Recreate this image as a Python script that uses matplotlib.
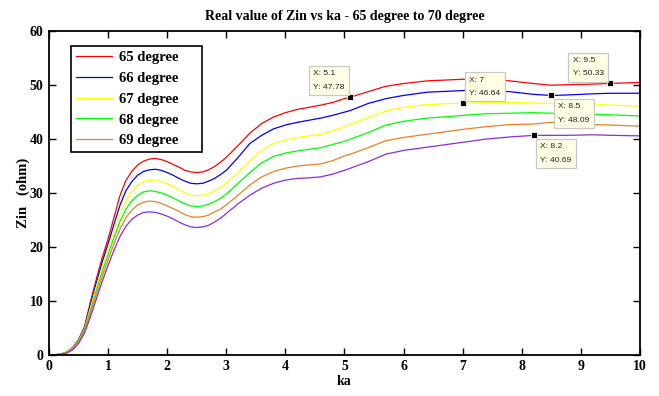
import matplotlib as mpl
import matplotlib.pyplot as plt
# -------------------------------------------------------------------------------------------------

mpl.use('AGG')

# Data
ka = [0.1, 0.2, 0.3, 0.4, 0.5, 0.6, 0.7, 0.8, 0.9, 1.0,
	1.1, 1.2, 1.3, 1.4, 1.5, 1.6, 1.7, 1.8, 1.9, 2.0,
	2.1, 2.2, 2.3, 2.4, 2.5, 2.6, 2.7, 2.8, 2.9, 3.0,
	3.2, 3.4, 3.6, 3.8, 4.0, 4.2, 4.4, 4.6, 4.8, 5.0,
	5.1, 5.4, 5.7, 6.0, 6.4, 6.8, 7.0, 7.4, 7.8, 8.2,
	8.5, 8.8, 9.2, 9.5, 10.0]

zin_65 = [0.0, 0.1, 0.5, 1.3, 2.8, 5.2, 9.8, 14.0, 18.0, 21.5,
	25.5, 29.5, 32.3, 34.0, 35.2, 35.9, 36.3, 36.4, 36.2, 35.8,
	35.3, 34.8, 34.2, 33.9, 33.8, 33.9, 34.3, 34.9, 35.7, 36.6,
	38.8, 41.1, 42.9, 44.1, 44.9, 45.5, 45.9, 46.3, 46.8, 47.5,
	47.78, 48.8, 49.8, 50.3, 50.8, 51.0, 51.1, 51.1, 50.8, 50.3,
	50.0, 50.1, 50.2, 50.33, 50.5]

zin_66 = [0.0, 0.1, 0.5, 1.3, 2.7, 5.0, 9.2, 13.3, 17.2, 20.6,
	24.2, 27.7, 30.4, 32.1, 33.3, 34.0, 34.3, 34.4, 34.2, 33.8,
	33.3, 32.7, 32.2, 31.8, 31.7, 31.8, 32.2, 32.7, 33.4, 34.2,
	36.6, 39.2, 40.7, 41.9, 42.6, 43.1, 43.5, 43.9, 44.4, 45.0,
	45.3, 46.6, 47.5, 48.1, 48.7, 48.9, 49.0, 49.0, 48.8, 48.3,
	48.09, 48.2, 48.4, 48.5, 48.5]

zin_67 = [0.0, 0.1, 0.5, 1.2, 2.6, 4.8, 8.7, 12.6, 16.3, 19.6,
	23.0, 26.1, 28.6, 30.3, 31.4, 32.1, 32.4, 32.4, 32.1, 31.7,
	31.2, 30.6, 30.0, 29.6, 29.5, 29.6, 29.9, 30.4, 31.0, 31.8,
	33.8, 36.0, 37.9, 39.2, 39.8, 40.3, 40.6, 40.9, 41.5, 42.3,
	42.7, 44.0, 45.2, 45.9, 46.4, 46.6, 46.64, 46.8, 46.8, 46.7,
	46.6, 46.5, 46.4, 46.3, 46.1]

zin_68 = [0.0, 0.1, 0.4, 1.1, 2.5, 4.6, 8.2, 11.9, 15.4, 18.6,
	21.8, 24.7, 27.0, 28.5, 29.6, 30.2, 30.4, 30.3, 30.0, 29.6,
	29.1, 28.5, 28.0, 27.6, 27.5, 27.6, 27.9, 28.4, 29.0, 29.8,
	31.8, 33.8, 35.6, 36.8, 37.4, 37.8, 38.1, 38.4, 39.0, 39.6,
	40.0, 41.2, 42.6, 43.3, 43.9, 44.2, 44.4, 44.7, 44.8, 44.9,
	44.8, 44.7, 44.6, 44.5, 44.3]

zin_69 = [0.0, 0.1, 0.4, 1.0, 2.3, 4.3, 7.6, 11.1, 14.5, 17.6,
	20.6, 23.3, 25.4, 26.8, 27.8, 28.3, 28.5, 28.4, 28.1, 27.6,
	27.1, 26.6, 26.0, 25.6, 25.5, 25.6, 25.9, 26.5, 27.0, 27.8,
	29.6, 31.5, 33.0, 34.0, 34.6, 35.0, 35.2, 35.4, 36.0, 36.9,
	37.2, 38.4, 39.7, 40.3, 40.9, 41.5, 41.8, 42.3, 42.7, 42.8,
	43.1, 43.0, 42.7, 42.6, 42.4]

zin_70 = [0.0, 0.05, 0.3, 0.9, 2.1, 4.0, 7.0, 10.3, 13.6, 16.6,
	19.4, 21.9, 23.8, 25.1, 25.9, 26.4, 26.5, 26.4, 26.1, 25.7,
	25.2, 24.6, 24.1, 23.7, 23.6, 23.7, 24.0, 24.6, 25.3, 26.2,
	28.0, 29.6, 30.9, 31.8, 32.4, 32.7, 32.8, 33.0, 33.5, 34.2,
	34.6, 35.8, 37.2, 37.9, 38.5, 39.1, 39.4, 40.0, 40.4, 40.69,
	40.7, 40.7, 40.8, 40.7, 40.6]

legend_labels = ['65 degree', '66 degree', '67 degree', '68 degree', '69 degree']

# Data tips (x, y) shown on the chart
tip_x = [5.1, 7.0, 8.5, 9.5, 8.2]
tip_y = [47.78, 46.64, 48.09, 50.33, 40.69]
tip_text = ['X: 5.1\nY: 47.78', 'X: 7\nY: 46.64', 'X: 8.5\nY: 48.09',
	'X: 9.5\nY: 50.33', 'X: 8.2\nY: 40.69']

# -------------------------------------------------------------------------------------------------
serif = 'Liberation Serif'

(fig, ax1) = plt.subplots(figsize=(6.59, 3.96), dpi=100, facecolor='white')
fig.subplots_adjust(left=0.0744, right=0.971, top=0.921, bottom=0.1043)

colors = ['red', 'blue', '#ffff00', '#00ff00', '#f08020', '#8a2be2']
series = [zin_65, zin_66, zin_67, zin_68, zin_69, zin_70]

lines = []
for (vals, c) in zip(series, colors):
	(ln,) = ax1.plot(ka, vals, color=c, linewidth=0.9)
	lines.append(ln)

# Data tip markers + boxes
offsets = [(-4.2, 4.6, 'right', 'bottom'), (4.7, 4.4, 'left', 'bottom'),
	(5.1, -5.5, 'left', 'top'), (-4.9, 4.4, 'right', 'bottom'),
	(4.7, -5.5, 'left', 'top')]
for (x, y, txt, off) in zip(tip_x, tip_y, tip_text, offsets):
	ax1.plot([x], [y], 's', color='black', markersize=4.5,
		markeredgecolor='#fffff0', markeredgewidth=0.6, zorder=5)
	ax1.annotate(txt, xy=(x, y), xytext=(off[0], off[1]), textcoords='offset points',
		ha=off[2], va=off[3], multialignment='left', fontsize=6.1,
		family='Liberation Sans', linespacing=2.3, color='#202020', zorder=6,
		bbox=dict(boxstyle='square,pad=0.5', facecolor='#ffffe6',
			edgecolor='#c8c8c8', linewidth=0.9)
	)

ax1.set_xlim(0, 10)
ax1.set_ylim(0, 60)
ax1.set_xticks(range(0, 11))
ax1.set_yticks(range(0, 61, 10))

ax1.tick_params(direction='in', top=True, right=True, length=5, width=1,
	labelsize=10, pad=4)
for lbl in ax1.get_xticklabels() + ax1.get_yticklabels():
	lbl.set_family(serif)
	lbl.set_fontweight('bold')
for sp in ax1.spines.values():
	sp.set_linewidth(1.3)

ax1.set_title('Real value of Zin vs ka - 65 degree to 70 degree',
	family=serif, fontweight='bold', fontsize=10, pad=8)
ax1.set_xlabel('ka', family=serif, fontweight='bold', fontsize=10, labelpad=1)
ax1.set_ylabel('Zin   (ohm)', family=serif, fontweight='bold', fontsize=10.5, labelpad=0)

# Legend (only the first five series)
leg = ax1.legend(lines[:5], legend_labels, loc='upper left',
	bbox_to_anchor=(0.037, 0.955, 0.2217, 0.0), mode='expand', borderaxespad=0,
	prop={'family': serif, 'weight': 'bold', 'size': 10.5},
	handlelength=2.5, handletextpad=0.45, labelspacing=0.52,
	borderpad=0.35, fancybox=False, framealpha=1, edgecolor='black')
leg.get_frame().set_linewidth(1.2)

fig.savefig('out.png')
plt.close()
